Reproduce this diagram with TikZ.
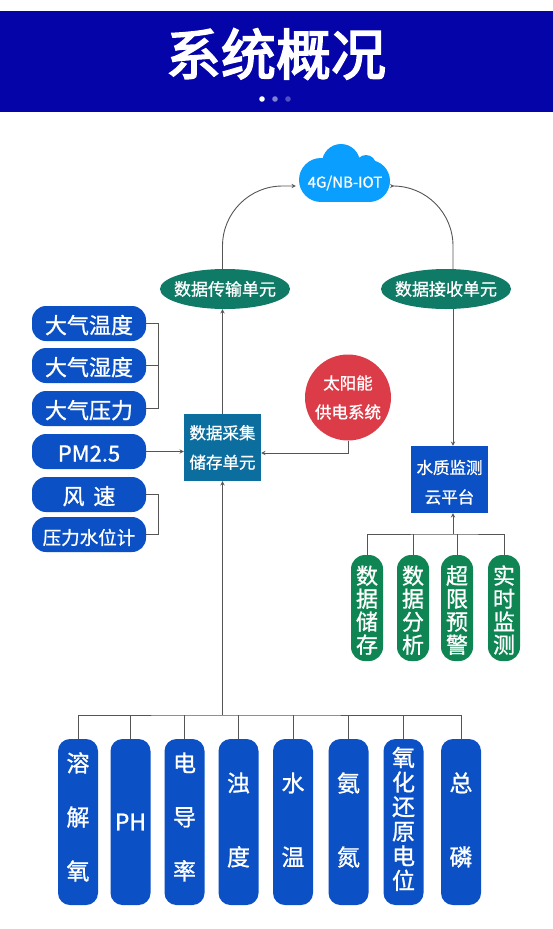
\documentclass[tikz,border=0pt]{standalone}
\usepackage{fontspec}
\setmainfont{Noto Sans CJK SC}[FakeBold=1]
\newfontfamily\titlefont{Noto Sans CJK SC}[FakeBold=3]
\usepackage{tikz}
\usetikzlibrary{positioning, shapes.geometric}
\definecolor{headerblue}{HTML}{0404A8}
\definecolor{pillblue}{HTML}{0B50C4}
\definecolor{unitteal}{HTML}{0B6E9E}
\definecolor{linkgreen}{HTML}{0F7A66}
\definecolor{taskgreen}{HTML}{0E8553}
\definecolor{solarred}{HTML}{DC3C48}
\definecolor{cloudblue}{HTML}{0A9EFF}
\definecolor{wiregray}{HTML}{555555}

\begin{document}
\begin{tikzpicture}[x=1pt, y=-1pt, node distance=54pt]
    % Define styles
    \tikzstyle{sensor} = [rectangle, rounded corners=14pt, minimum width=114pt, minimum height=35pt, inner sep=0pt, align=center, text=white, fill=pillblue, node distance=43pt, text height=25pt, text depth=5pt, font=\fontsize{22}{24}\selectfont]
    \tikzstyle{probe} = [rectangle, rounded corners=12pt, minimum width=40pt, minimum height=166pt, inner sep=0pt, align=center, text=white, fill=pillblue, font=\fontsize{23}{54}\selectfont]
    \tikzstyle{task} = [rectangle, rounded corners=14pt, minimum width=32pt, minimum height=106pt, inner sep=0pt, align=center, text=white, fill=taskgreen, node distance=46pt, text height=90pt, text depth=0pt, font=\fontsize{22}{23}\selectfont]
    \tikzstyle{unit} = [rectangle, minimum width=77pt, minimum height=67pt, inner sep=0pt, align=center, text=white, font=\fontsize{16.5}{29.5}\selectfont]
    \tikzstyle{link} = [ellipse, minimum width=130pt, minimum height=40pt, inner xsep=-5pt, inner ysep=0pt, align=center, text=white, fill=linkgreen, font=\fontsize{17}{20}\selectfont]
    \tikzstyle{wire} = [draw=wiregray, line width=0.9pt]
    \tikzstyle{arrow} = [wire, ->, >=stealth]

    \useasboundingbox (0,0) rectangle (553,929);

    % Header
    \node (header) [rectangle, minimum width=553pt, minimum height=101pt, inner sep=0pt, fill=headerblue] at (276.5,61.5) {};
    \node (title) [text=white, inner sep=0pt, font=\fontsize{55}{60}\titlefont\selectfont] at (276,54) {系统概况};
    \fill [white] (262,99) circle (2.8);
    \fill [white, opacity=0.5] (275,99) circle (2.8);
    \fill [white, opacity=0.3] (288,99) circle (2.8);

    % Cloud
    \fill [cloudblue] (341,163) circle (19) (321,180) circle (22) (369,181) circle (21) (366,165) circle (10);
    \fill [cloudblue] (321,165) rectangle (369,202);
    \node (cloud) [minimum width=98pt, minimum height=30pt, inner sep=0pt, text=white, font=\fontsize{15}{18}\selectfont] at (345,183) {4G/NB-IOT};

    % Nodes
    \node (collect) [unit, fill=unitteal] at (222.5,447.5) {数据采集\\储存单元};
    \node (send) [link] at (225,289) {数据传输单元};
    \node (receive) [link] at (446,289) {数据接收单元};
    \node (solar) [circle, minimum size=86pt, inner sep=0pt, align=center, text=white, fill=solarred, font=\fontsize{16.5}{29}\selectfont] at (348,397.5) {太阳能\\供电系统};
    \node (platform) [unit, fill=pillblue, text height=49pt, text depth=1.5pt] at (449.5,479.5) {水质监测\\云平台};

    \node (airtemp) [sensor] at (89,323.5) {大气温度};
    \node (airhumid) [sensor, below of=airtemp, yshift=1pt] {大气湿度};
    \node (airpress) [sensor, below of=airhumid] {大气压力};
    \node (pm) [sensor, below of=airpress] {PM2.5};
    \node (wind) [sensor, below of=pm] {风\hspace{0.4em}速};
    \node (gauge) [sensor, below of=wind, yshift=3pt, font=\fontsize{18.5}{22}\selectfont] {压力水位计};

    \node (store) [task] at (367,608) {数\\据\\储\\存};
    \node (analyse) [task, right of=store] {数\\据\\分\\析};
    \node (alarm) [task, right of=analyse, xshift=-2pt] {超\\限\\预\\警};
    \node (live) [task, right of=alarm, xshift=1pt] {实\\时\\监\\测};

    \node (oxygen) [probe, text depth=12pt] at (78,822) {溶\\解\\氧};
    \node (ph) [probe, right of=oxygen, xshift=-1.5pt] {PH};
    \node (conduct) [probe, right of=ph, text depth=12pt] {电\\导\\率};
    \node (turbid) [probe, right of=conduct, text depth=6pt, font=\fontsize{23}{74}\selectfont] {浊\\度};
    \node (watertemp) [probe, right of=turbid, xshift=0.5pt, text depth=6pt, font=\fontsize{23}{74}\selectfont] {水\\温};
    \node (ammonia) [probe, right of=watertemp, xshift=1.5pt, text depth=6pt, font=\fontsize{23}{74}\selectfont] {氨\\氮};
    \node (redox) [probe, right of=ammonia, xshift=1pt, text depth=8pt, font=\fontsize{23}{24.6}\selectfont] {氧\\化\\还\\原\\电\\位};
    \node (phosphorus) [probe, right of=redox, xshift=3.5pt, text depth=6pt, font=\fontsize{23}{74}\selectfont] {总\\磷};

    \coordinate (taskbus) at (453,534);
    \coordinate (probebus) at (222.5,715);

    % Arrows
    \draw [arrow, rounded corners=60pt] (send.north -| collect.north) |- ([yshift=-3pt]cloud.west);
    \draw [arrow, rounded corners=60pt] (taskbus |- receive.north) |- ([yshift=-3pt]cloud.east);
    \draw [arrow] (collect.north) -- (collect.north |- send.south);
    \draw [arrow] (taskbus |- receive.south) -- (taskbus |- platform.north);
    \draw [arrow] (pm.east) -- (pm.east -| collect.west);
    \draw [arrow] (solar.south) |- ([yshift=-5.5pt]collect.east);
    \draw [arrow] (probebus) -- (collect.south);
    \draw [arrow] (taskbus) -- (taskbus |- platform.south);

    % Brackets and buses
    \draw [wire] (airtemp.east) -- ++(12,0) |- (airpress.east);
    \draw [wire] (airhumid.east) -- ++(12,0);
    \draw [wire] (wind.east) -- ++(12,0) |- (gauge.east);
    \draw [wire] (store.north) |- (taskbus) -| (live.north);
    \draw [wire] (analyse.north) -- (analyse.north |- taskbus);
    \draw [wire] (alarm.north) -- (alarm.north |- taskbus);
    \draw [wire] (oxygen.north) |- (probebus) -| (phosphorus.north);
    \draw [wire] (ph.north) -- (ph.north |- probebus);
    \draw [wire] (conduct.north) -- (conduct.north |- probebus);
    \draw [wire] (turbid.north) -- (turbid.north |- probebus);
    \draw [wire] (watertemp.north) -- (watertemp.north |- probebus);
    \draw [wire] (ammonia.north) -- (ammonia.north |- probebus);
    \draw [wire] (redox.north) -- (redox.north |- probebus);
\end{tikzpicture}
\end{document}
